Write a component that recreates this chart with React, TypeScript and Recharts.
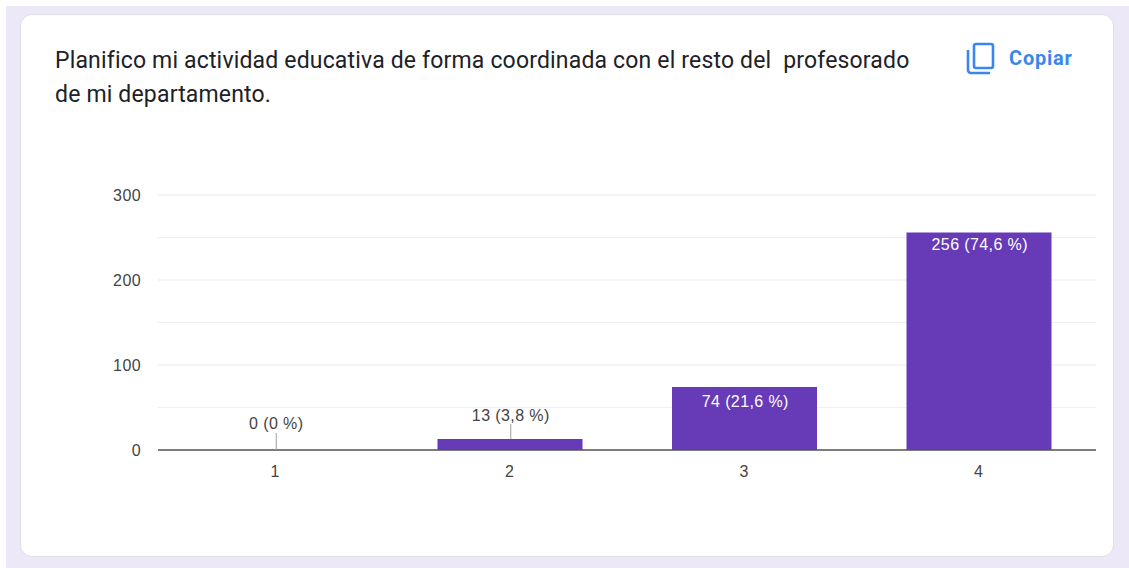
import React from "react";
import { ComposedChart, Bar, Line, XAxis, YAxis, CartesianGrid, LabelList } from "recharts";

const categories = ["1", "2", "3", "4"];
const counts = [0, 13, 74, 256];
const percents = ["0", "3,8", "21,6", "74,6"];
const majorTicks = [0, 100, 200, 300];
const minorLines = [50, 150, 250];
const titleLines = [
  "Planifico mi actividad educativa de forma coordinada con el resto del  profesorado",
  "de mi departamento.",
];
const copyLabel = "Copiar";

const rows = categories.map((c, i) => ({ category: c, count: counts[i], label: `${counts[i]} (${percents[i]} %)` }));

const labelFont = { fontFamily: "Liberation Sans, Arial", fontSize: 16, letterSpacing: 0.4 };

const BarLabel = (props: any) => {
  const { x, y, value, index } = props;
  const n = counts[index];
  if (n > 50) {
    return (
      <text x={x + 1} y={y + (n > 100 ? 13 : 16)} textAnchor="middle" dominantBaseline="middle" {...labelFont} fill="#ffffff">
        {value}
      </text>
    );
  }
  const lead = n > 0 ? 15 : 17;
  return (
    <g>
      <line x1={x + 1} x2={x + 1} y1={y} y2={y - lead} stroke="#9e9e9e" strokeWidth={1} />
      <text x={x + 1} y={y - lead - (n > 0 ? 7 : 8)} textAnchor="middle" dominantBaseline="middle" {...labelFont} fill="#444444">
        {value}
      </text>
    </g>
  );
};

export default function App() {
  return (
    <div style={{ position: "absolute", left: 0, top: 0, width: 1129, height: 568, background: "#ffffff", overflow: "hidden" }}>
      <div style={{ position: "absolute", left: 6, top: 6, width: 1123, height: 562, background: "#ece8f7" }} />
      <div
        style={{
          position: "absolute",
          left: 20,
          top: 14,
          width: 1092,
          height: 541,
          background: "#ffffff",
          border: "1px solid #dfdfe6",
          borderRadius: 12,
        }}
      />
      <div
        style={{
          position: "absolute",
          left: 55,
          top: 44,
          fontFamily: "Roboto",
          fontSize: 23,
          letterSpacing: 0.17,
          lineHeight: "34px",
          color: "#202124",
          whiteSpace: "pre",
        }}
      >
        {titleLines.map((t) => (
          <div key={t}>{t}</div>
        ))}
      </div>
      <svg style={{ position: "absolute", left: 964, top: 40 }} width={32} height={36} viewBox="0 0 32 36" fill="none" stroke="#3b86ee" strokeWidth={2.6}>
        <rect x={10} y={4} width={19} height={24} rx={2} />
        <path d="M4 10 V30 a3 3 0 0 0 3 3 H26" />
      </svg>
      <div style={{ position: "absolute", left: 1009, top: 47, fontFamily: "Roboto", fontWeight: 700, fontSize: 20, letterSpacing: 0.8, lineHeight: "22px", color: "#3b86ee" }}>
        {copyLabel}
      </div>
      <div style={{ position: "absolute", left: 0, top: 0 }}>
        <ComposedChart width={1129} height={568} data={rows} margin={{ top: 195, right: 33, bottom: 68, left: 100 }} barCategoryGap={0}>
          <CartesianGrid vertical={false} stroke="#f1f1f1" horizontalValues={minorLines} />
          <CartesianGrid vertical={false} stroke="#ebebeb" horizontalValues={majorTicks} />
          <XAxis
            dataKey="category"
            height={50}
            axisLine={{ stroke: "#555555", strokeWidth: 1.5 }}
            tickLine={false}
            tickMargin={10}
            tick={{ ...labelFont, fill: "#444444" }}
          />
          <YAxis
            width={58}
            domain={[0, 300]}
            ticks={majorTicks}
            axisLine={false}
            tickLine={false}
            tickMargin={11}
            tick={{ ...labelFont, fill: "#444444" }}
          />
          <Bar dataKey="count" fill="#673ab7" barSize={145} isAnimationActive={false} />
          <Line dataKey="count" stroke="none" dot={false} activeDot={false} legendType="none" isAnimationActive={false}>
            <LabelList dataKey="label" content={BarLabel} />
          </Line>
        </ComposedChart>
      </div>
    </div>
  );
}
